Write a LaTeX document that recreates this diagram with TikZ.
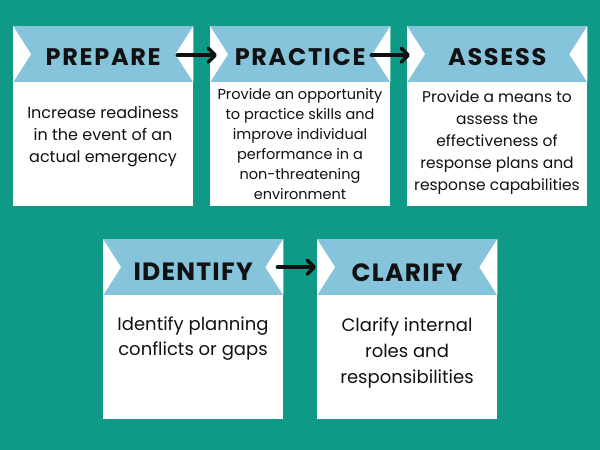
\documentclass[tikz,border=0pt]{standalone}
\usepackage{fontspec}
\setmainfont{Poppins}
\usetikzlibrary{arrows.meta}
\definecolor{bgteal}{HTML}{0F9A87}
\definecolor{bandblue}{HTML}{85C4DA}
\definecolor{ink}{HTML}{111111}
\tikzset{
  card/.style={fill=white, draw=none, minimum width=180pt, minimum height=180pt, inner sep=0pt, anchor=north west},
  ribbon/.style={fill=bandblue, draw=none, minimum width=180pt, minimum height=56pt, inner sep=0pt, anchor=north},
  notch/.style={fill=white},
  ttl/.style={text=ink, font=\fontsize{24}{28}\selectfont\bfseries\addfontfeatures{LetterSpace=7}, inner sep=0pt},
  ttlb/.style={text=ink, font=\fontsize{25}{29}\selectfont\bfseries\addfontfeatures{LetterSpace=5}, inner sep=0pt},
  body/.style={text=ink, align=center, inner sep=0pt},
  flow/.style={draw=ink, line width=3.5pt, line cap=round, -{Straight Barb[length=7pt,width=14pt,line width=3.5pt,round]}}
}
\begin{document}
\begin{tikzpicture}[x=1pt,y=-1pt]
\fill[bgteal] (0,0) rectangle (600,450);
\useasboundingbox (0,0) rectangle (600,450);

% cards
\node[card] (c1) at (13,26) {};
\node[card] (c2) at (210,26) {};
\node[card] (c3) at (407,26) {};
\node[card] (c4) at (103,239) {};
\node[card] (c5) at (317,239) {};

% ribbons
\foreach \i in {1,...,5}{
  \node[ribbon] (h\i) at (c\i.north) {};
  \fill[notch] (h\i.north west) -- ([xshift=18pt]h\i.west) -- (h\i.south west) -- cycle;
  \fill[notch] (h\i.north east) -- ([xshift=-18pt]h\i.east) -- (h\i.south east) -- cycle;
}

% titles
\node[ttl] (t1) at ([yshift=-2.5pt]h1.center) {PREPARE};
\node[ttl] (t2) at ([yshift=-2.5pt]h2.center) {PRACTICE};
\node[ttl] (t3) at ([yshift=-2.5pt]h3.center) {ASSESS};
\node[ttlb] (t4) at ([yshift=-5pt]h4.center) {IDENTIFY};
\node[ttlb] (t5) at ([yshift=-5pt]h5.center) {CLARIFY};

% bodies
\node[body, font=\fontsize{16}{22}\selectfont] (b1) at (103,137) {Increase readiness\\in the event of an\\actual emergency};
\node[body, font=\fontsize{14.5}{20}\selectfont] (b2) at (300,144) {Provide an opportunity\\to practice skills and\\improve individual\\performance in a\\non-threatening\\environment};
\node[body, font=\fontsize{15.5}{22}\selectfont] (b3) at (497,142.5) {Provide a means to\\assess the\\effectiveness of\\response plans and\\response capabilities};
\node[body, font=\fontsize{18}{25}\selectfont] (b4) at (193,339) {Identify planning\\conflicts or gaps};
\node[body, font=\fontsize{18}{26}\selectfont] (b5) at (407,352.5) {Clarify internal\\roles and\\responsibilities};

% arrows
\draw[flow] ([xshift=-16pt,yshift=-1pt]h1.east) -- ([xshift=7pt,yshift=-1pt]h2.west);
\draw[flow] ([xshift=-19pt,yshift=-1pt]h2.east) -- ([xshift=3pt,yshift=-1pt]h3.west);
\draw[flow] ([xshift=-6pt]h4.east) -- ([xshift=-1pt]h5.west);
\end{tikzpicture}
\end{document}
